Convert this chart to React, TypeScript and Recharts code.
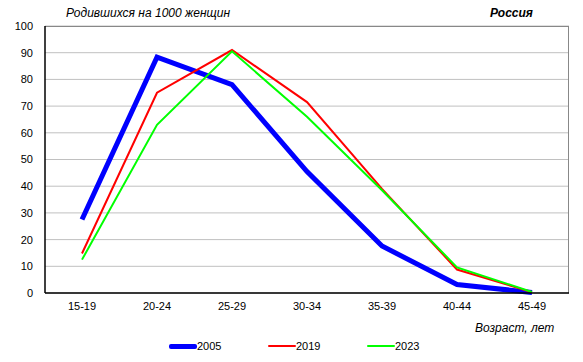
import React from "react";
import {
  LineChart,
  Line,
  XAxis,
  YAxis,
  CartesianGrid,
} from "recharts";

const ageGroups = ["15-19", "20-24", "25-29", "30-34", "35-39", "40-44", "45-49"];
const births2005 = [27.5, 88.3, 78, 45.5, 17.6, 3.2, 0.2];
const births2019 = [14.8, 75, 91, 71.5, 39, 8.8, 0.3];
const births2023 = [12.5, 63, 90.5, 66, 38.5, 9.6, 0.4];
const yTicks = [0, 10, 20, 30, 40, 50, 60, 70, 80, 90, 100];

const seriesList = [
  { key: "y2005", name: "2005", color: "#0000ff", width: 5 },
  { key: "y2019", name: "2019", color: "#ff0000", width: 2 },
  { key: "y2023", name: "2023", color: "#00ff00", width: 2 },
];

const data = ageGroups.map((age, i) => ({
  age,
  y2005: births2005[i],
  y2019: births2019[i],
  y2023: births2023[i],
}));

const font = "'Liberation Sans', Arial, sans-serif";
const tickStyle = { fontSize: 11, fill: "#000", fontFamily: font };

export default function App() {
  return (
    <div style={{ position: "relative", width: 583, height: 362, background: "#fff", fontFamily: font }}>
      <style>{`body{margin:0}`}</style>
      <LineChart
        width={583}
        height={362}
        data={data}
        margin={{ top: 26, right: 14, bottom: 39, left: 0 }}
      >
        <CartesianGrid vertical={false} stroke="#c0c0c0" />
        {/* darker frame: top edge and right edge of the plot area */}
        <CartesianGrid
          horizontalCoordinatesGenerator={({ offset }: any) => [offset.top + 0.5]}
          verticalCoordinatesGenerator={({ offset }: any) => [offset.left + offset.width - 0.5]}
          stroke="#888"
        />
        <XAxis
          dataKey="age"
          tick={tickStyle}
          tickLine={false}
          tickSize={0}
          tickMargin={9}
          padding={{ left: 37, right: 37 }}
          axisLine={{ stroke: "#000", strokeWidth: 1.5 }}
          height={30}
        />
        <YAxis
          domain={[0, 100]}
          ticks={yTicks}
          tick={tickStyle}
          tickLine={false}
          tickSize={0}
          tickMargin={12}
          width={45}
          axisLine={{ stroke: "#000", strokeWidth: 1.5 }}
        />
        {seriesList.map((s) => (
          <Line
            key={s.key}
            type="linear"
            dataKey={s.key}
            name={s.name}
            stroke={s.color}
            strokeWidth={s.width}
            dot={false}
            activeDot={false}
            isAnimationActive={false}
          />
        ))}
      </LineChart>

      <div style={{ position: "absolute", left: 66, top: 6, fontSize: 12, fontStyle: "italic" }}>
        Родившихся на 1000 женщин
      </div>
      <div style={{ position: "absolute", left: 490, top: 6, fontSize: 12, fontStyle: "italic", fontWeight: "bold" }}>
        Россия
      </div>
      <div style={{ position: "absolute", left: 475, top: 321, fontSize: 12, fontStyle: "italic" }}>
        Возраст, лет
      </div>
      {seriesList.map((s, i) => (
        <div
          key={s.key}
          style={{
            position: "absolute",
            left: 169 + i * 99,
            top: 340,
            display: "flex",
            alignItems: "center",
            fontSize: 11,
          }}
        >
          <span style={{ display: "inline-block", width: 28, height: s.width, background: s.color, borderRadius: 2 }} />
          <span>{s.name}</span>
        </div>
      ))}
    </div>
  );
}
